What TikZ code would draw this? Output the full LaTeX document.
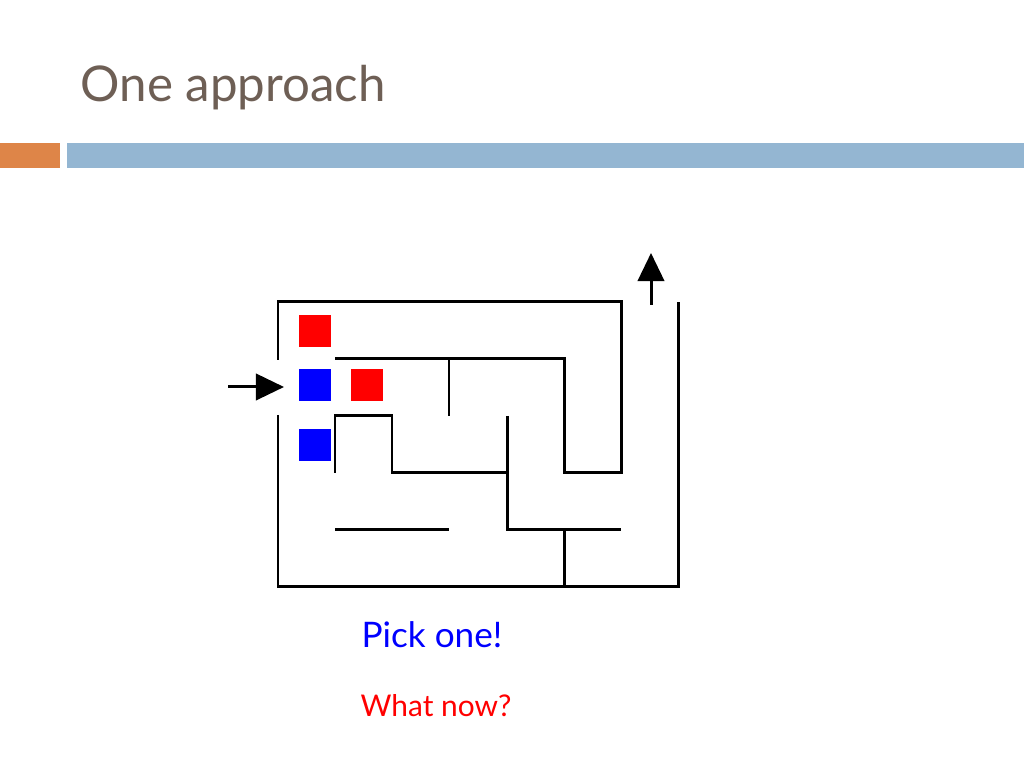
\documentclass[tikz,border=0pt]{standalone}
\usepackage{fontspec}
\setmainfont{Lato}
\usetikzlibrary{arrows.meta}
\begin{document}
\begin{tikzpicture}[x=0.01cm,y=-0.01cm,
  wall/.style={line width=0.85pt},
  sq/.style={minimum size=9.07pt,inner sep=0,draw=none}]
\useasboundingbox (0,0) rectangle (1024,768);
\fill[white] (0,0) rectangle (1024,768);
\definecolor{tcol}{RGB}{110,95,85}
\definecolor{obar}{RGB}{222,133,72}
\definecolor{bbar}{RGB}{148,182,210}
\node[anchor=base west,text=tcol,font=\fontsize{14}{16}\selectfont,inner sep=0] (title) at (80,102) {One approach};
\fill[obar] (0,143) rectangle (60,168);
\fill[bbar] (67,143) rectangle (1024,168);
% maze
\draw[wall] (278,360) -- (278,302) -- (621,302) -- (621,473) -- (564,473) -- (564,359) -- (335,359);
\draw[wall] (278,415) -- (278,587) -- (678,587) -- (678,302);
\draw[wall] (449,359) -- (449,416);
\draw[wall] (335,473) -- (335,416) -- (392,416) -- (392,473) -- (507,473);
\draw[wall] (507,416) -- (507,530) -- (621,530);
\draw[wall] (564,530) -- (564,587);
\draw[wall] (335,530) -- (449,530);
\coordinate (exs) at (651,305); \coordinate (exe) at (651,253);
\draw[wall,-{Triangle[length=8pt,width=7.5pt]}] (exs) -- (exe);
\coordinate (ens) at (228,387); \coordinate (ene) at (284,387);
\draw[wall,-{Triangle[length=8pt,width=7.5pt]}] (ens) -- (ene);
\node[sq,fill=red] (r1) at (315,331) {};
\node[sq,fill=blue] (b1) at (315,385) {};
\node[sq,fill=red] (r2) at (367,385) {};
\node[sq,fill=blue] (b2) at (315,445) {};
\node[text=blue,font=\fontsize{10}{12}\selectfont] (pick) at (432,635) {Pick one!};
\node[text=red,font=\fontsize{8.5}{10}\selectfont] (what) at (436,706) {What now?};
\end{tikzpicture}
\end{document}
